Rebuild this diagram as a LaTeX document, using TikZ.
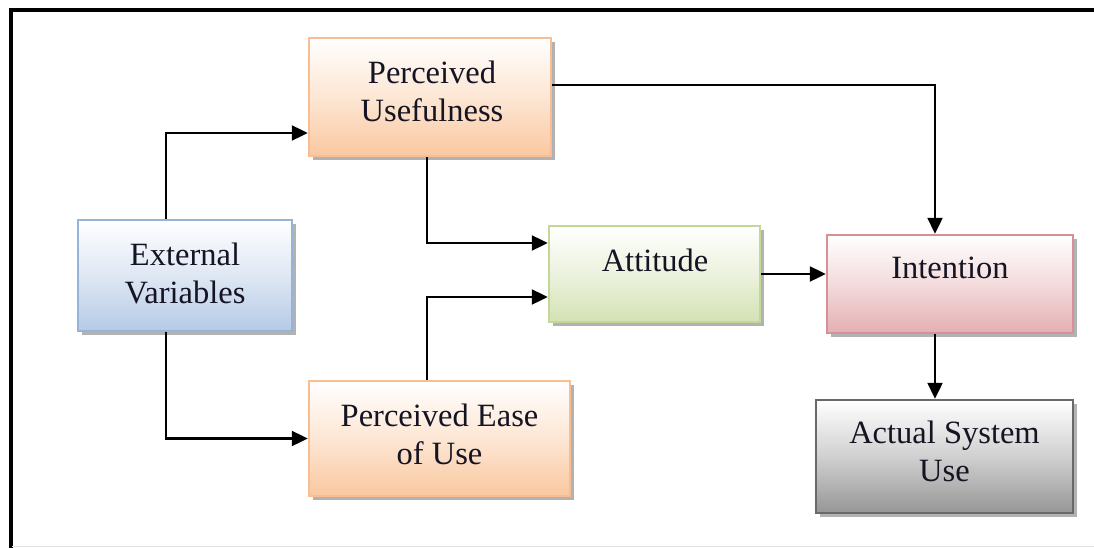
\documentclass[tikz,border=0pt]{standalone}
\usepackage{fontspec}
\setmainfont{Liberation Serif}
\usetikzlibrary{arrows.meta,calc}
\definecolor{txtc}{RGB}{20,20,35}
\definecolor{orB}{RGB}{248,190,145}
\definecolor{orF}{RGB}{250,200,160}
\definecolor{blB}{RGB}{150,180,215}
\definecolor{blF}{RGB}{182,202,230}
\definecolor{grB}{RGB}{195,215,150}
\definecolor{grF}{RGB}{212,226,180}
\definecolor{rdB}{RGB}{215,145,150}
\definecolor{rdF}{RGB}{228,175,178}
\definecolor{gyB}{RGB}{105,105,105}
\definecolor{gyF}{RGB}{150,150,150}
\tikzset{
  box/.style n args={2}{draw=#1, line width=2.5pt, top color=white, bottom color=#2,
     middle color=#2!45, inner sep=0pt, rectangle},
  shad/.style={fill=black!30, draw=none, inner sep=0pt, rectangle},
  txt/.style={font=\fontsize{32.5}{38}\selectfont, text=txtc, align=center, inner sep=0pt},
  arr/.style={line width=2.4pt, -{Triangle[length=16pt,width=15pt]}}
}
\begin{document}
\begin{tikzpicture}[x=1pt,y=-1pt]
\useasboundingbox (0,0) rectangle (1094,548);
% frame
\draw[line width=4pt] (10.5,548) -- (10.5,10.5) -- (1094,10.5);
\draw[black!12, line width=1pt] (12,546.5) -- (1094,546.5);
% shadows
\node[shad, minimum width=242pt, minimum height=118pt] (pu-s) at (434,101) {};
\node[shad, minimum width=214pt, minimum height=111pt] (ev-s) at (189,279.5) {};
\node[shad, minimum width=211pt, minimum height=96pt] (att-s) at (658.5,278) {};
\node[shad, minimum width=246pt, minimum height=98pt] (int-s) at (954,288) {};
\node[shad, minimum width=261pt, minimum height=115pt] (peou-s) at (443.5,442.5) {};
\node[shad, minimum width=257pt, minimum height=113pt] (asu-s) at (948.5,460.5) {};
% boxes
\node[box={orB}{orF}, minimum width=242pt, minimum height=118pt] (pu) at (430,97) {};
\node[box={blB}{blF}, minimum width=214pt, minimum height=111pt] (ev) at (185,275.5) {};
\node[box={grB}{grF}, minimum width=211pt, minimum height=96pt] (att) at (654.5,274) {};
\node[box={rdB}{rdF}, minimum width=246pt, minimum height=98pt] (int) at (950,284) {};
\node[box={orB}{orF}, minimum width=261pt, minimum height=115pt] (peou) at (439.5,438.5) {};
\node[box={gyB}{gyF}, minimum width=257pt, minimum height=113pt] (asu) at (944.5,456.5) {};
% texts
\node[txt] (pu-t) at (432,91) {Perceived\\Usefulness};
\node[txt] (ev-t) at (185,273) {External\\Variables};
\node[txt] (att-t) at (655,260) {Attitude};
\node[txt] (int-t) at (950,268) {Intention};
\node[txt] (peou-t) at (439.5,434) {Perceived Ease\\of Use};
\node[txt] (asu-t) at (944.5,451.5) {Actual System\\Use};
% connectors
\draw[arr] ([xshift=-19pt]ev.north) |- ([yshift=-36pt]pu.west);
\draw[arr] ([xshift=-19pt]ev.south) |- (peou.west);
\draw[arr] ([xshift=-3pt]pu.south) |- ([yshift=31pt]att.west);
\draw[arr] ([xshift=-12.5pt]peou.north) |- ([yshift=-23pt]att.west);
\draw[arr] ([yshift=12pt]pu.east) -| ([xshift=-15pt]int.north);
\draw[arr] (att.east) -- (att.east -| int.west);
\draw[arr] ([xshift=-15pt]int.south) -- ([xshift=-15pt]int.south |- asu.north);
\end{tikzpicture}
\end{document}
